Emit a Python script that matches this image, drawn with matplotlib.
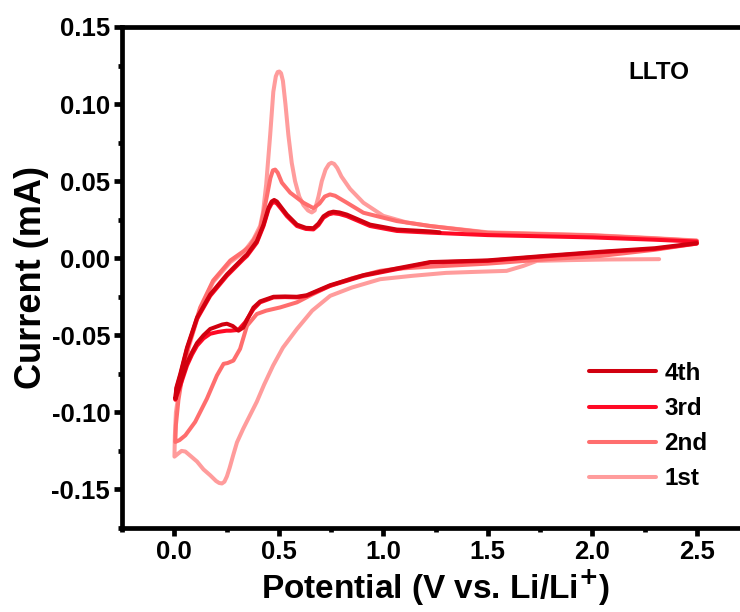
import matplotlib
matplotlib.use("Agg")
import matplotlib.pyplot as plt
from matplotlib.ticker import MultipleLocator

plt.rcParams["font.family"] = ["Liberation Sans", "DejaVu Sans"]
plt.rcParams["font.weight"] = "bold"
plt.rcParams["mathtext.default"] = "bf"

# ── data ─────────────────────────────────────────────────────────────────────

# 1st cycle: starts at OCV, cathodic sweep to 0 V, then anodic to 2.5 V
c1_v = [2.32, 2.08, 1.90, 1.735, 1.67, 1.59, 1.45, 1.30, 1.14, 0.985, 0.85, 0.746,
        0.66, 0.587, 0.52, 0.473, 0.43, 0.395, 0.33, 0.300, 0.282, 0.265, 0.252,
        0.240, 0.228, 0.215, 0.20, 0.172, 0.14, 0.109, 0.08, 0.053, 0.035, 0.019,
        0.001,
        0.003, 0.008, 0.029, 0.067, 0.124, 0.186, 0.268, 0.331, 0.379, 0.411,
        0.425, 0.440, 0.459, 0.474, 0.486, 0.495, 0.503, 0.511, 0.520, 0.532,
        0.546, 0.562, 0.578, 0.598, 0.618, 0.640, 0.658, 0.672, 0.690, 0.706,
        0.724, 0.740, 0.752, 0.765, 0.780, 0.800, 0.841, 0.905, 1.0, 1.112,
        1.224, 1.5, 2.0, 2.3, 2.5]
c1_i = [-0.0006, -0.0008, -0.0012, -0.0017, -0.005, -0.0082, -0.0088, -0.0095,
        -0.0114, -0.0136, -0.019, -0.0244, -0.034, -0.0459, -0.058, -0.0696,
        -0.082, -0.0931, -0.1106, -0.1195, -0.1278, -0.1360, -0.1415, -0.1450,
        -0.1461, -0.1458, -0.1445, -0.1408, -0.137, -0.1319, -0.1285, -0.1254,
        -0.125, -0.1267, -0.1287,
        -0.115, -0.100, -0.080, -0.0588, -0.033, -0.0155, -0.0026, 0.0037,
        0.0123, 0.0209, 0.030, 0.048, 0.0800, 0.1080, 0.1180, 0.1208, 0.1211,
        0.1200, 0.1150, 0.1000, 0.0800, 0.0620, 0.0500, 0.0400, 0.0345, 0.0310,
        0.0297, 0.0310, 0.0400, 0.0500, 0.0575, 0.0610, 0.0619, 0.0612, 0.0585,
        0.0530, 0.0450, 0.0360, 0.0275, 0.0232, 0.0209, 0.0168, 0.0150, 0.0130,
        0.0115]

# 2nd cycle
c2_v = [2.5, 2.3, 2.04, 1.8, 1.5, 1.224, 1.065, 0.985, 0.85, 0.746, 0.66, 0.587,
        0.507, 0.44, 0.395, 0.348, 0.315, 0.283, 0.255, 0.236, 0.204, 0.156,
        0.100, 0.053, 0.025, 0.005,
        0.008, 0.02, 0.04, 0.07, 0.124, 0.186, 0.268, 0.331, 0.363, 0.411,
        0.443, 0.460, 0.472, 0.483, 0.495, 0.515, 0.555, 0.618, 0.666, 0.695,
        0.720, 0.745, 0.770, 0.826, 0.905, 1.065, 1.224, 1.5, 2.0, 2.3, 2.5]
c2_i = [0.0095, 0.0055, 0.0015, -0.0005, -0.0035, -0.0055, -0.0068, -0.0082,
        -0.013, -0.0179, -0.0235, -0.0286, -0.0319, -0.034, -0.0362, -0.0438,
        -0.0588, -0.0664, -0.068, -0.0685, -0.0761, -0.0912, -0.1062, -0.1149,
        -0.118, -0.1192,
        -0.108, -0.092, -0.075, -0.056, -0.032, -0.0145, -0.0015, 0.0045, 0.008,
        0.0188, 0.040, 0.0520, 0.0570, 0.0575, 0.0555, 0.0490, 0.0425, 0.036,
        0.0325, 0.0355, 0.0400, 0.0414, 0.0405, 0.036, 0.0295, 0.0241, 0.0209,
        0.0165, 0.0148, 0.0128, 0.0113]

# 3rd cycle
c3_v = [2.5, 2.3, 2.04, 1.8, 1.5, 1.224, 1.065, 0.905, 0.746, 0.634, 0.587, 0.53,
        0.475, 0.411, 0.379, 0.339, 0.307, 0.27, 0.25, 0.21, 0.172, 0.14, 0.109,
        0.085, 0.061, 0.029, 0.005,
        0.01, 0.029, 0.061, 0.109, 0.172, 0.252, 0.331, 0.348, 0.395, 0.427,
        0.451, 0.466, 0.478, 0.491, 0.515, 0.539, 0.587, 0.63, 0.666, 0.690,
        0.714, 0.740, 0.761, 0.790, 0.826, 0.937, 1.065, 1.224, 1.5, 2.0, 2.3,
        2.5]
c3_i = [0.0095, 0.006, 0.0039, 0.0015, -0.0017, -0.0028, -0.0071, -0.0114,
        -0.0179, -0.0244, -0.0254, -0.0252, -0.0254, -0.0286, -0.033, -0.0416,
        -0.0465, -0.047, -0.047, -0.0478, -0.049, -0.052, -0.0567, -0.0625,
        -0.0696, -0.0826, -0.0918,
        -0.085, -0.076, -0.0588, -0.0394, -0.0244, -0.0114, -0.0006, 0.0015,
        0.0101, 0.0209, 0.0317, 0.0355, 0.0365, 0.0355, 0.0315, 0.0273, 0.0209,
        0.019, 0.0187, 0.0215, 0.0263, 0.0285, 0.0292, 0.0287, 0.0273, 0.0209,
        0.0177, 0.0166, 0.015, 0.0135, 0.012, 0.0108]

# 4th cycle (anodic sweep stops near 1.27 V)
c4_v = [2.5, 2.3, 2.04, 1.8, 1.5, 1.224, 1.065, 0.905, 0.746, 0.634, 0.587, 0.53,
        0.475, 0.411, 0.379, 0.35, 0.33, 0.307, 0.28, 0.252, 0.23, 0.21, 0.172,
        0.14, 0.109, 0.085, 0.061, 0.029, 0.005,
        0.01, 0.029, 0.061, 0.109, 0.172, 0.252, 0.331, 0.348, 0.395, 0.427,
        0.451, 0.466, 0.478, 0.491, 0.515, 0.539, 0.587, 0.63, 0.666, 0.690,
        0.714, 0.740, 0.761, 0.790, 0.826, 0.937, 1.065, 1.224, 1.27]
c4_i = [0.0098, 0.0065, 0.0042, 0.0018, -0.0014, -0.0025, -0.0066, -0.011,
        -0.0175, -0.024, -0.025, -0.0248, -0.025, -0.028, -0.032, -0.0395,
        -0.045, -0.047, -0.044, -0.0425, -0.043, -0.044, -0.0459, -0.050,
        -0.055, -0.061, -0.068, -0.081, -0.0912,
        -0.084, -0.075, -0.058, -0.0385, -0.0235, -0.0105, 0.0003, 0.0024,
        0.011, 0.0218, 0.0328, 0.0368, 0.0378, 0.0368, 0.0325, 0.0283, 0.0218,
        0.0197, 0.0195, 0.0225, 0.0272, 0.0295, 0.0302, 0.0297, 0.0283, 0.0218,
        0.0186, 0.0174, 0.0168]

labels = ["1st", "2nd", "3rd", "4th"]
colors = ["#FF9C9C", "#FF6E6E", "#FF0A25", "#D1000F"]

x_ticks = [0.0, 0.5, 1.0, 1.5, 2.0, 2.5]
y_ticks = [-0.15, -0.10, -0.05, 0.00, 0.05, 0.10, 0.15]

# ── plot ─────────────────────────────────────────────────────────────────────

fig = plt.figure(figsize=(7.40, 6.12), dpi=100)
ax = fig.add_axes([122 / 740, 84 / 612, 627 / 740, 501 / 612])

lines = {}
for v, i, lab, col in zip([c1_v, c2_v, c3_v, c4_v], [c1_i, c2_i, c3_i, c4_i], labels, colors):
    ln, = ax.plot(v, i, color=col, lw=2.9, solid_joinstyle="round",
                  solid_capstyle="round", label=lab)
    lines[lab] = ln

ax.set_xlim(-0.25, 2.75)
ax.set_ylim(-0.175, 0.15)
ax.set_xticks(x_ticks)
ax.set_yticks(y_ticks)
ax.set_xticklabels([f"{t:.1f}" for t in x_ticks])
ax.set_yticklabels([f"{t:.2f}" for t in y_ticks])
ax.xaxis.set_minor_locator(MultipleLocator(0.25))
ax.yaxis.set_minor_locator(MultipleLocator(0.025))

for s in ax.spines.values():
    s.set_linewidth(3.4)
ax.tick_params(which="major", direction="out", length=5.5, width=3.4,
               labelsize=18.5, pad=3, top=False, right=False)
ax.tick_params(which="minor", direction="out", length=3, width=3.4,
               top=False, right=False)
for lbl in ax.get_xticklabels() + ax.get_yticklabels():
    lbl.set_fontweight("bold")

ax.set_xlabel("Potential (V vs. Li/Li$^{+}$)", fontsize=24, fontweight="bold", labelpad=3)
ax.set_ylabel("Current (mA)", fontsize=26, fontweight="bold", labelpad=2)

ax.text(0.856, 0.91, "LLTO", transform=ax.transAxes, ha="center", va="center",
        fontsize=17.5, fontweight="bold")

order = ["4th", "3rd", "2nd", "1st"]
ax.legend([lines[k] for k in order], order, loc="lower left",
          bbox_to_anchor=(0.745, 0.075), frameon=False, borderpad=0,
          borderaxespad=0, handlelength=2.75, handletextpad=0.35,
          labelspacing=0.5, prop={"size": 17.5, "weight": "bold"})

fig.savefig("out.png", dpi=100)
